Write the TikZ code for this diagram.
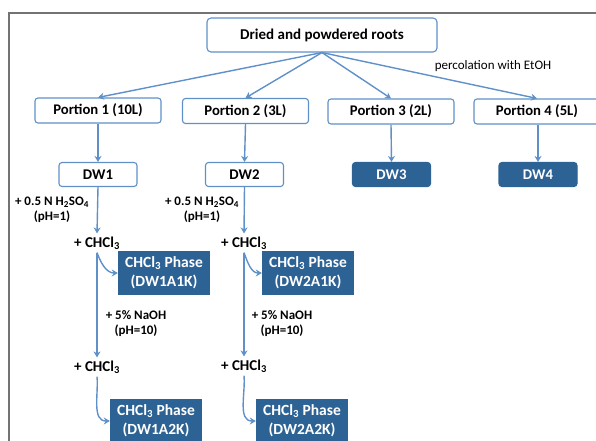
\documentclass[tikz,border=0pt]{standalone}
\usepackage{fontspec}
\setmainfont{Carlito}
\usetikzlibrary{arrows.meta}
\definecolor{flowblue}{RGB}{95,145,200}
\definecolor{phaseblue}{RGB}{45,98,148}
\definecolor{framegray}{RGB}{115,115,115}
\tikzset{
	flow/.style={draw=flowblue, line width=1.4pt, -{Stealth[length=6pt,width=7pt]}},
	topbox/.style={draw=flowblue, line width=1.1pt, rounded corners=4pt, fill=white, minimum width=230pt, minimum height=34pt, font=\bfseries\fontsize{15}{18}\selectfont},
	portionbox/.style={draw=flowblue, line width=1.1pt, rounded corners=3pt, fill=white, minimum width=126pt, minimum height=25pt, inner sep=1pt, font=\bfseries\fontsize{14.7}{17}\selectfont},
	dwbox/.style={draw=flowblue, line width=1.1pt, rounded corners=3pt, fill=white, minimum width=78pt, minimum height=24pt, inner sep=1pt, font=\bfseries\fontsize{14.8}{17}\selectfont},
	dwfill/.style={dwbox, draw=phaseblue, fill=phaseblue, text=white},
	phasebox/.style={fill=phaseblue, text=white, align=center, minimum width=92pt, minimum height=44pt, inner sep=1pt, font=\bfseries\fontsize{15.5}{19}\selectfont},
	reagent/.style={align=center, inner sep=1pt, font=\bfseries\fontsize{13}{15}\selectfont},
	solvent/.style={inner sep=3pt, font=\bfseries\fontsize{15}{17}\selectfont},
}
\begin{document}
\begin{tikzpicture}[x=1pt, y=-1pt]
	\useasboundingbox (0,0) rectangle (596,440);
	\clip (0,0) rectangle (596,440);
	% frame of the figure
	\draw [framegray, line width=1.2pt] (9,445) -- (9,13) -- (600,13);
	% roots and portions
	\node [topbox] (roots) at (322,35) {Dried and powdered roots};
	\node [portionbox] (por1) at (98,110.5) {Portion 1 (10L)};
	\node [portionbox] (por2) at (245.5,111) {Portion 2 (3L)};
	\node [portionbox] (por3) at (391,111.5) {Portion 3 (2L)};
	\node [portionbox] (por4) at (537,111.5) {Portion 4 (5L)};
	\node [font=\fontsize{13}{15}\selectfont] (perc) at (493,66) {percolation with EtOH};
	\foreach \p in {por1,por2,por3,por4}
		\draw [flow] (roots.south) -- (\p.north);
	% extracts
	\node [dwbox] (dw1) at (98,174.5) {DW1};
	\node [dwbox] (dw2) at (244.5,174.5) {DW2};
	\node [dwfill] (dw3) at (391.5,174.5) {DW3};
	\node [dwfill] (dw4) at (538,174.5) {DW4};
	\draw [flow] (por1.south) -- (dw1.north);
	\draw [flow] (por2.south) -- (dw2.north);
	\draw [flow] (por3.south) -- (dw3.north);
	\draw [flow] ([xshift=1pt]por4.south) -- (dw4.north);
	% acid step
	\node [reagent] (acid1) at (52,210) {+ 0.5 N H\textsubscript{2}SO\textsubscript{4}\\(pH=1)};
	\node [reagent] (acid2) at (202,210) {+ 0.5 N H\textsubscript{2}SO\textsubscript{4}\\(pH=1)};
	\node [solvent] (chl1a) at (97,243) {+ CHCl\textsubscript{3}};
	\node [solvent] (chl2a) at (244,243) {+ CHCl\textsubscript{3}};
	\node [phasebox] (ph1a) at (164,273) {CHCl\textsubscript{3} Phase\\(DW1A1K)};
	\node [phasebox] (ph2a) at (308,273) {CHCl\textsubscript{3} Phase\\(DW2A1K)};
	\draw [flow] (dw1.south) -- (chl1a.north);
	\draw [flow] (dw2.south) -- (chl2a.north);
	\draw [flow] (chl1a.south) to [out=-70, in=180] (ph1a.west);
	\draw [flow] (chl2a.south) to [out=-70, in=180] (ph2a.west);
	% base step
	\node [reagent] (base1) at (136,324) {+ 5\% NaOH\\(pH=10)};
	\node [reagent] (base2) at (282,324) {+ 5\% NaOH\\(pH=10)};
	\node [solvent] (chl1b) at (97,367) {+ CHCl\textsubscript{3}};
	\node [solvent] (chl2b) at (244,366) {+ CHCl\textsubscript{3}};
	\node [phasebox] (ph1b) at (156,421) {CHCl\textsubscript{3} Phase\\(DW1A2K)};
	\node [phasebox] (ph2b) at (302,421) {CHCl\textsubscript{3} Phase\\(DW2A2K)};
	\draw [flow] (chl1a.south) -- (chl1b.north);
	\draw [flow] (chl2a.south) -- (chl2b.north);
	\draw [flow] (chl1b.south) to [out=-85, in=180] (ph1b.west);
	\draw [flow] (chl2b.south) to [out=-85, in=180] (ph2b.west);
\end{tikzpicture}
\end{document}
